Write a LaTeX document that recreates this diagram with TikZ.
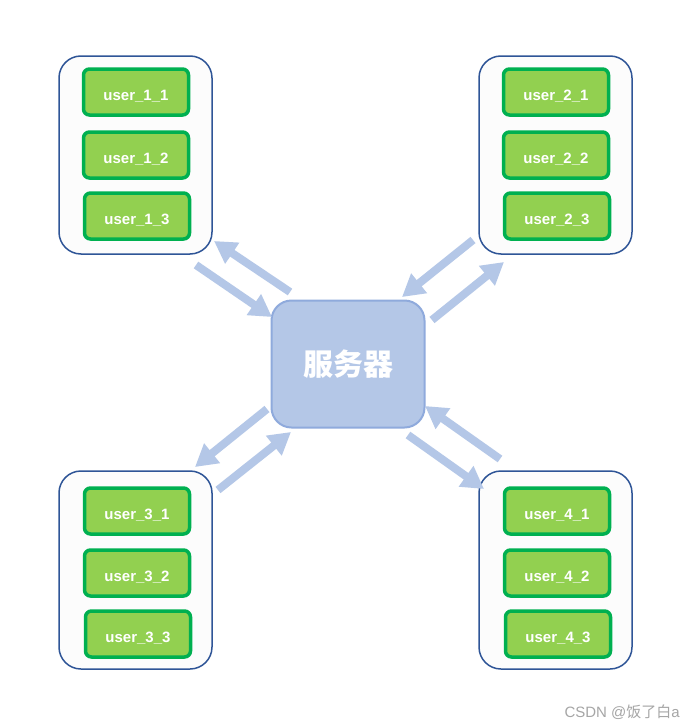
\documentclass[tikz,border=0pt]{standalone}
\usepackage{fontspec}
\setmainfont{Liberation Sans}
\newfontfamily\cjk{Noto Sans CJK SC}
\usetikzlibrary{arrows.meta}
\definecolor{ugreen}{HTML}{92D050}
\definecolor{ugborder}{HTML}{00B050}
\definecolor{gborder}{HTML}{2F5597}
\definecolor{gfill}{HTML}{FCFCFC}
\definecolor{sfill}{HTML}{B4C7E7}
\definecolor{sborder}{HTML}{8FAADC}
\definecolor{arr}{HTML}{B4C7E7}
\definecolor{wm}{HTML}{A6A6A6}
\tikzset{
  groupbox/.style={draw=gborder, fill=gfill, line width=1.5pt, rounded corners=22pt, minimum width=153pt, minimum height=198pt, inner sep=0pt},
  userbox/.style={draw=ugborder, fill=ugreen, line width=3.5pt, rounded corners=6pt, minimum width=105pt, minimum height=46pt, inner sep=0pt, text height=16pt, text depth=0pt, text=white, font=\fontsize{15}{17}\selectfont\bfseries},
  serverbox/.style={draw=sborder, fill=sfill, line width=2pt, rounded corners=20pt, minimum width=153pt, minimum height=127pt, inner sep=0pt, text=white, font=\cjk\fontsize{30}{33}\selectfont\bfseries},
  flow/.style={draw=arr, line width=8pt, -{Triangle[length=22pt,width=24pt]}},
}
\begin{document}
\begin{tikzpicture}[x=1pt,y=-1pt]
\useasboundingbox (0,0) rectangle (693,728);
\fill[white] (0,0) rectangle (693,728);
% groups
\node[groupbox] (g1) at (135.5,155) {};
\node[groupbox] (g2) at (555.5,155) {};
\node[groupbox] (g3) at (135.5,570) {};
\node[groupbox] (g4) at (555.5,570) {};
% users
\node[userbox] (u11) at (136,92) {user\_1\_1};
\node[userbox] (u12) at (136,155) {user\_1\_2};
\node[userbox] (u13) at (137,216) {user\_1\_3};
\node[userbox] (u21) at (556,92) {user\_2\_1};
\node[userbox] (u22) at (556,155) {user\_2\_2};
\node[userbox] (u23) at (557,216) {user\_2\_3};
\node[userbox] (u31) at (137,511) {user\_3\_1};
\node[userbox] (u32) at (137,573) {user\_3\_2};
\node[userbox] (u33) at (138,634) {user\_3\_3};
\node[userbox] (u41) at (557,511) {user\_4\_1};
\node[userbox] (u42) at (557,573) {user\_4\_2};
\node[userbox] (u43) at (558,634) {user\_4\_3};
% server
\node[serverbox] (srv) at (348,364) {服务器};
% arrow endpoints
\coordinate (a1s) at (196,265); \coordinate (a1e) at (272,317);
\coordinate (b1s) at (290,292); \coordinate (b1e) at (214,241);
\coordinate (a2s) at (473,240); \coordinate (a2e) at (402,297);
\coordinate (b2s) at (432,320); \coordinate (b2e) at (504,262);
\coordinate (a3s) at (267,409); \coordinate (a3e) at (195,467);
\coordinate (b3s) at (218,490); \coordinate (b3e) at (291,432);
\coordinate (a4s) at (500,459); \coordinate (a4e) at (425,406);
\coordinate (b4s) at (408,435); \coordinate (b4e) at (484,489);
\draw[flow] (a1s) -- (a1e);
\draw[flow] (b1s) -- (b1e);
\draw[flow] (a2s) -- (a2e);
\draw[flow] (b2s) -- (b2e);
\draw[flow] (a3s) -- (a3e);
\draw[flow] (b3s) -- (b3e);
\draw[flow] (a4s) -- (a4e);
\draw[flow] (b4s) -- (b4e);
% watermark
\node[anchor=east, text=wm, font=\fontsize{15}{17}\selectfont, inner sep=0pt] (wmk) at (680,712) {CSDN @{\cjk 饭了白}a};
\end{tikzpicture}
\end{document}
